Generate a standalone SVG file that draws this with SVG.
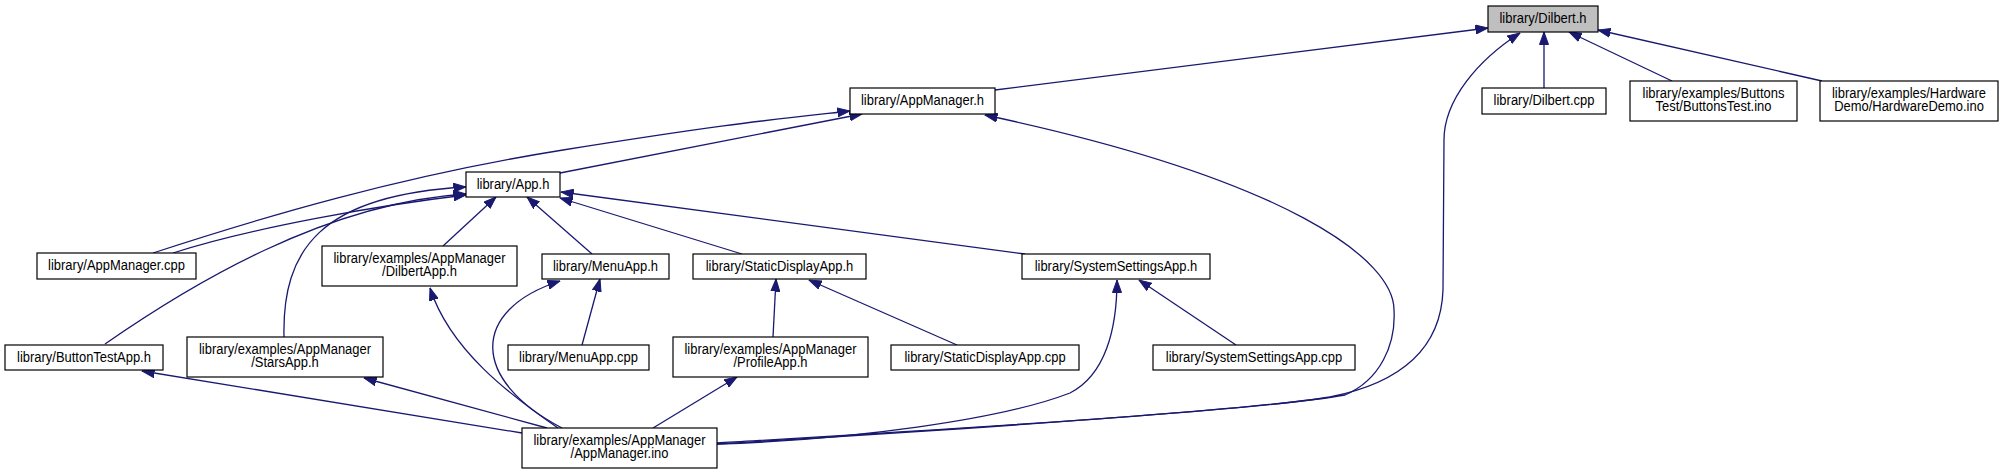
<svg xmlns="http://www.w3.org/2000/svg" width="2003" height="475" viewBox="0 0 2003 475">
<style>
.box{fill:#fff;stroke:#000;stroke-width:1.2}
.root{fill:#bfbfbf;stroke:#000;stroke-width:1.2}
.t{font-family:"Liberation Sans",Arial,Helvetica,sans-serif;font-size:14.4px;fill:#000;text-anchor:middle}
.e{fill:none;stroke:#191970;stroke-width:1.3;marker-end:url(#ah)}
</style>
<defs>
<marker id="ah" markerUnits="userSpaceOnUse" markerWidth="13" markerHeight="10" viewBox="0 0 13 10" refX="12.5" refY="5" orient="auto">
<path d="M0,0.5 L12.5,5 L0,9.5 z" fill="#191970" stroke="#191970" stroke-width="1"/>
</marker>
</defs>
<rect width="2003" height="475" fill="#fff"/>
<g id="connectors">
<path class="e" d="M995,90 L1488,28"/>
<path class="e" d="M717,444 C950,430 1250,410 1330,397 C1400,383 1441,350 1443,290 L1444,140 C1444,100 1478,60 1520,33"/>
<path class="e" d="M1544,88 L1544,32"/>
<path class="e" d="M1672,81 L1569,32"/>
<path class="e" d="M1822,81 L1598,30"/>
<path class="e" d="M560,173 L862,114"/>
<path class="e" d="M153,253 C260,218 400,176 563,150 S760,121 850,111"/>
<path class="e" d="M717,443 C900,432 1250,412 1345,395 C1380,380 1396,345 1394,310 C1394,260 1290,180 985,115"/>
<path class="e" d="M173,253 C250,228 380,205 466,195"/>
<path class="e" d="M105,344 C190,285 325,203 466,194"/>
<path class="e" d="M284,337 C282,250 320,195 466,187"/>
<path class="e" d="M443,246 L496,197"/>
<path class="e" d="M592,254 L527,197"/>
<path class="e" d="M742,254 L560,198"/>
<path class="e" d="M1025,254 L561,192"/>
<path class="e" d="M558,428 C510,395 450,350 430,288"/>
<path class="e" d="M562,428 C470,380 470,310 560,281"/>
<path class="e" d="M582,345 L600,279"/>
<path class="e" d="M773,337 L776,279"/>
<path class="e" d="M957,345 L809,280"/>
<path class="e" d="M1236,345 L1139,280"/>
<path class="e" d="M717,444 C850,440 1000,420 1070,393 C1105,375 1117,330 1117,280"/>
<path class="e" d="M653,428 L737,377"/>
<path class="e" d="M547,428 L364,378"/>
<path class="e" d="M522,433 L142,371"/>
</g>
<g id="dilbert_h"><rect class="root" x="1488" y="6" width="110" height="26"/><text class="t" transform="scale(0.9 1)" x="1714.44" y="23.5">library/Dilbert.h</text></g>
<g id="appmanager_h"><rect class="box" x="850" y="88" width="145" height="26"/><text class="t" transform="scale(0.9 1)" x="1025" y="105.5">library/AppManager.h</text></g>
<g id="dilbert_cpp"><rect class="box" x="1482" y="88" width="124" height="26"/><text class="t" transform="scale(0.9 1)" x="1715.56" y="105.5">library/Dilbert.cpp</text></g>
<g id="buttonstest_ino"><rect class="box" x="1630" y="81" width="167" height="40"/><text class="t" transform="scale(0.9 1)" x="1903.89" y="98">library/examples/Buttons</text><text class="t" transform="scale(0.9 1)" x="1903.89" y="111.5">Test/ButtonsTest.ino</text></g>
<g id="hardwaredemo_ino"><rect class="box" x="1820" y="81" width="178" height="40"/><text class="t" transform="scale(0.9 1)" x="2121.11" y="98">library/examples/Hardware</text><text class="t" transform="scale(0.9 1)" x="2121.11" y="111.5">Demo/HardwareDemo.ino</text></g>
<g id="app_h"><rect class="box" x="466" y="172" width="94" height="25"/><text class="t" transform="scale(0.9 1)" x="570" y="189">library/App.h</text></g>
<g id="appmanager_cpp"><rect class="box" x="37" y="253" width="159" height="26"/><text class="t" transform="scale(0.9 1)" x="129.44" y="270.5">library/AppManager.cpp</text></g>
<g id="dilbertapp_h"><rect class="box" x="322" y="246" width="195" height="40"/><text class="t" transform="scale(0.9 1)" x="466.11" y="263">library/examples/AppManager</text><text class="t" transform="scale(0.9 1)" x="466.11" y="276.5">/DilbertApp.h</text></g>
<g id="menuapp_h"><rect class="box" x="542" y="254" width="127" height="25"/><text class="t" transform="scale(0.9 1)" x="672.78" y="271">library/MenuApp.h</text></g>
<g id="staticdisplayapp_h"><rect class="box" x="693" y="254" width="173" height="25"/><text class="t" transform="scale(0.9 1)" x="866.11" y="271">library/StaticDisplayApp.h</text></g>
<g id="systemsettingsapp_h"><rect class="box" x="1022" y="254" width="188" height="25"/><text class="t" transform="scale(0.9 1)" x="1240" y="271">library/SystemSettingsApp.h</text></g>
<g id="buttontestapp_h"><rect class="box" x="5" y="345" width="158" height="25"/><text class="t" transform="scale(0.9 1)" x="93.33" y="362">library/ButtonTestApp.h</text></g>
<g id="starsapp_h"><rect class="box" x="187" y="337" width="196" height="40"/><text class="t" transform="scale(0.9 1)" x="316.67" y="354">library/examples/AppManager</text><text class="t" transform="scale(0.9 1)" x="316.67" y="367.5">/StarsApp.h</text></g>
<g id="menuapp_cpp"><rect class="box" x="508" y="345" width="141" height="25"/><text class="t" transform="scale(0.9 1)" x="642.78" y="362">library/MenuApp.cpp</text></g>
<g id="profileapp_h"><rect class="box" x="673" y="337" width="195" height="40"/><text class="t" transform="scale(0.9 1)" x="856.11" y="354">library/examples/AppManager</text><text class="t" transform="scale(0.9 1)" x="856.11" y="367.5">/ProfileApp.h</text></g>
<g id="staticdisplayapp_cpp"><rect class="box" x="891" y="345" width="188" height="25"/><text class="t" transform="scale(0.9 1)" x="1094.44" y="362">library/StaticDisplayApp.cpp</text></g>
<g id="systemsettingsapp_cpp"><rect class="box" x="1153" y="345" width="202" height="25"/><text class="t" transform="scale(0.9 1)" x="1393.33" y="362">library/SystemSettingsApp.cpp</text></g>
<g id="appmanager_ino"><rect class="box" x="522" y="428" width="195" height="40"/><text class="t" transform="scale(0.9 1)" x="688.33" y="445">library/examples/AppManager</text><text class="t" transform="scale(0.9 1)" x="688.33" y="458.5">/AppManager.ino</text></g>
</svg>
